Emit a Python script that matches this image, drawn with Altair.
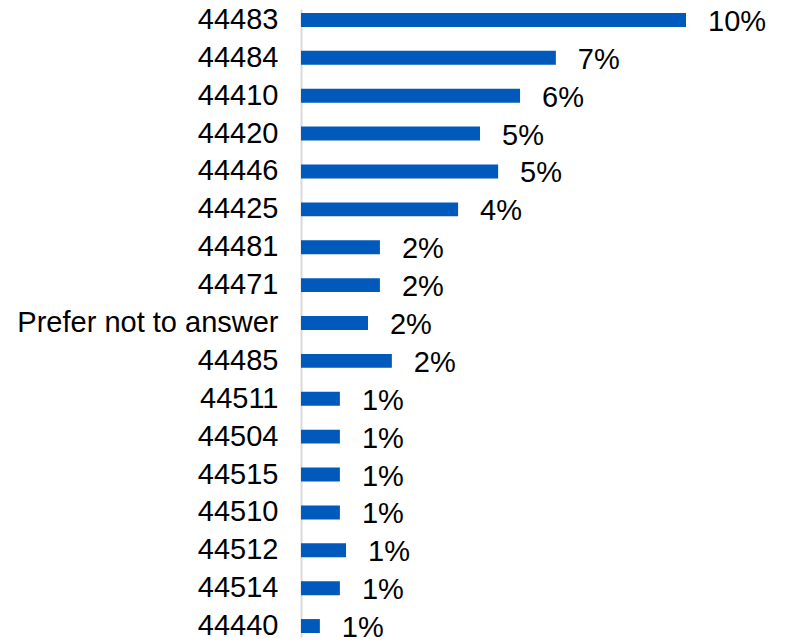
import altair as alt
import pandas as pd

categories = ["44483", "44484", "44410", "44420", "44446", "44425", "44481", "44471",
              "Prefer not to answer", "44485", "44511", "44504", "44515", "44510",
              "44512", "44514", "44440"]
values = [10.0, 6.62, 5.69, 4.65, 5.12, 4.08, 2.05, 2.05, 1.74, 2.36,
          1.01, 1.01, 1.01, 1.01, 1.17, 1.01, 0.49]
labels = ["10%", "7%", "6%", "5%", "5%", "4%", "2%", "2%", "2%", "2%",
          "1%", "1%", "1%", "1%", "1%", "1%", "1%"]

df = pd.DataFrame({"cat": categories, "val": values, "lab": labels})

FONT = "Liberation Sans"

y_enc = alt.Y("cat:N", sort=categories, title=None,
              scale=alt.Scale(paddingInner=0.6316, paddingOuter=0.105),
              axis=alt.Axis(ticks=False, grid=False, domainColor="#d9d9d9", domainWidth=2,
                            labelFont=FONT, labelFontSize=29, labelColor="#000000",
                            labelPadding=23, labelLimit=400))
x_enc = alt.X("val:Q", title=None, scale=alt.Scale(domain=[0, 12], nice=False),
              axis=None)

bars = alt.Chart(df).mark_bar(color="#0059BB").encode(x=x_enc, y=y_enc)
text = alt.Chart(df).mark_text(align="left", baseline="middle", dx=22, dy=2,
                               font=FONT, fontSize=29, color="#000000").encode(
    x=alt.X("val:Q"), y=alt.Y("cat:N", sort=categories), text="lab:N")

chart = (bars + text).properties(
    width=462, height=628,
    padding={"left": 8, "top": -3, "right": 0, "bottom": 0},
).configure_view(stroke=None)

chart.save("out.html", embed_options={"renderer": "svg", "actions": False})
